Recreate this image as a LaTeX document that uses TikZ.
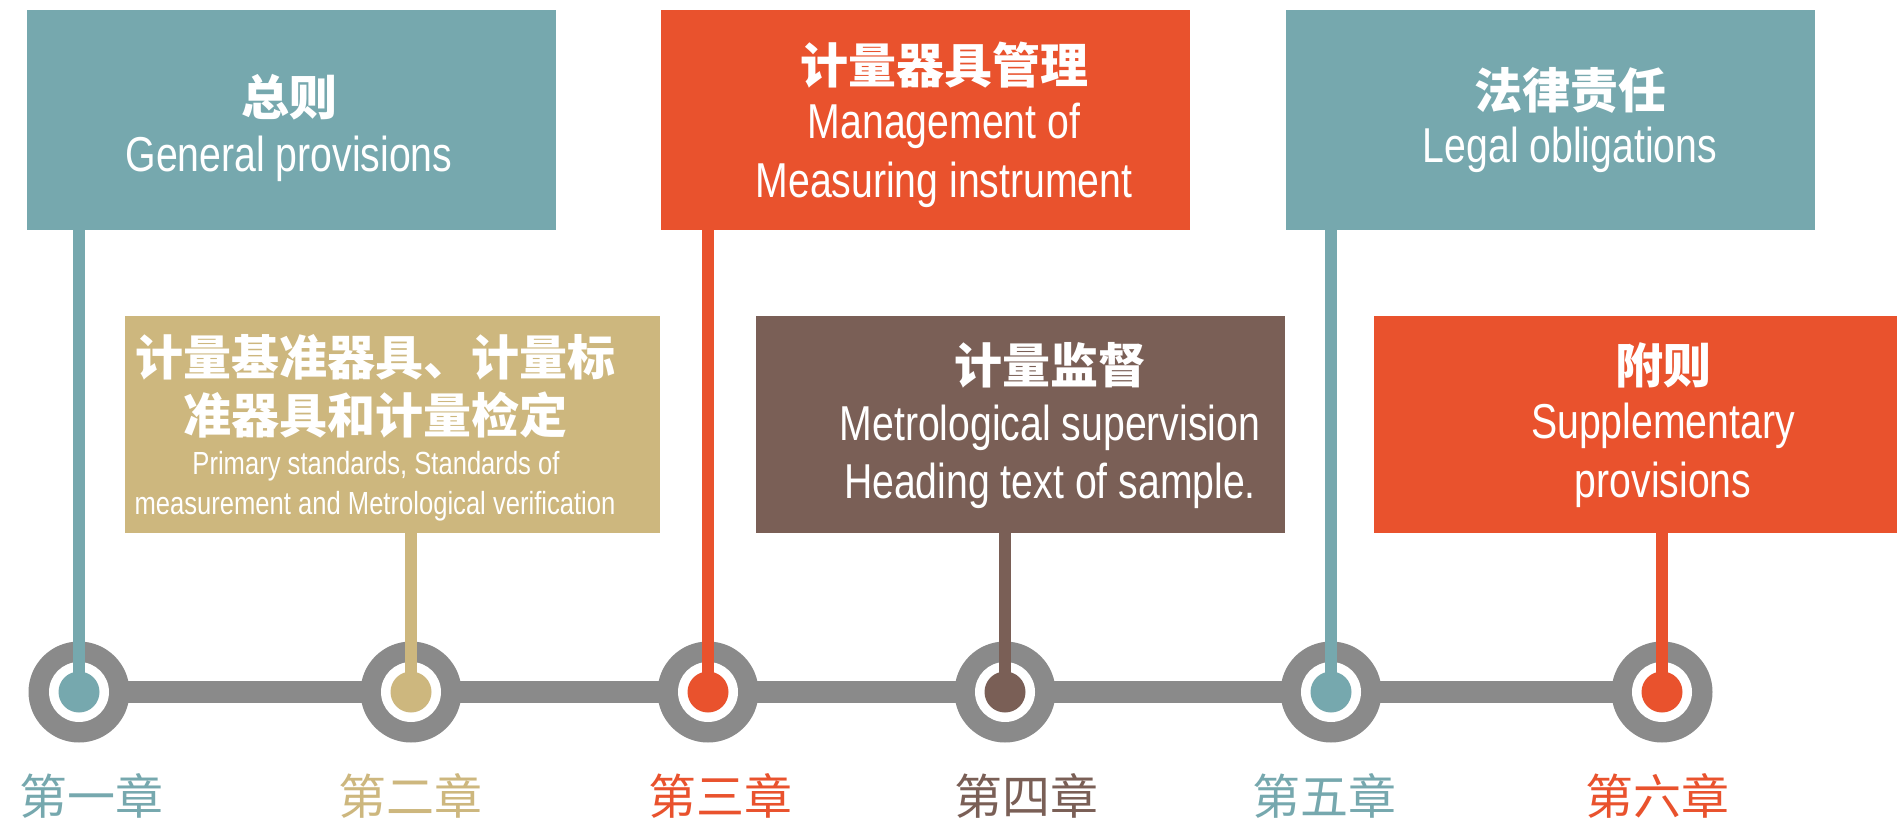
\documentclass[tikz,border=0pt]{standalone}
\usepackage{fontspec}
\newfontfamily\cjk{Noto Sans CJK SC}
\newfontfamily\en{Liberation Sans}[FakeStretch=0.8]
\definecolor{cteal}{HTML}{76A8AE}
\definecolor{ctan}{HTML}{CDB77E}
\definecolor{cred}{HTML}{E9522D}
\definecolor{cbrown}{HTML}{7A5F56}
\definecolor{cgray}{HTML}{8A8A8A}
\begin{document}
\begin{tikzpicture}[x=1pt,y=-1pt,
  boxnode/.style={rectangle, draw=none, inner sep=0pt, minimum width=529pt, minimum height=220pt},
  lowbox/.style={boxnode, minimum height=217pt},
  ringnode/.style={circle, fill=cgray, draw=none, inner sep=0pt, minimum size=101pt},
  holenode/.style={circle, fill=white, draw=none, inner sep=0pt, minimum size=60pt},
  dotnode/.style={circle, draw=none, inner sep=0pt, minimum size=41pt},
  stemline/.style={line width=12pt},
  timebar/.style={line width=22pt, cgray},
  cntitle/.style={text=white, inner sep=0pt, anchor=center, font=\cjk\bfseries\fontsize{48}{58}\selectfont},
  entext/.style={text=white, inner sep=0pt, anchor=base, font=\en\fontsize{49}{58}\selectfont},
  ensmall/.style={text=white, inner sep=0pt, anchor=base, font=\en\fontsize{32}{40}\selectfont},
  chaplabel/.style={inner sep=0pt, anchor=center, font=\cjk\fontsize{48}{58}\selectfont}
]
\useasboundingbox[fill=white] (0,0) rectangle (1897,821);

% boxes
\node[boxnode, fill=cteal] (b1) at (291.5,120) {};
\node[lowbox, fill=ctan, minimum width=535pt] (b2) at (392.5,424.5) {};
\node[boxnode, fill=cred] (b3) at (925.5,120) {};
\node[lowbox, fill=cbrown] (b4) at (1020.5,424.5) {};
\node[boxnode, fill=cteal] (b5) at (1550.5,120) {};
\node[lowbox, fill=cred, minimum width=523pt] (b6) at (1635.5,424.5) {};

% circles
\coordinate (p1) at (79,692);
\coordinate (p2) at (411,692);
\coordinate (p3) at (708,692);
\coordinate (p4) at (1005,692);
\coordinate (p5) at (1331,692);
\coordinate (p6) at (1662,692);

\draw[timebar] (p1) -- (p6);
\foreach \i in {1,...,6}{
  \node[ringnode] (r\i) at (p\i) {};
  \node[holenode] (h\i) at (p\i) {};
}

% stems and dots
\draw[stemline, cteal] (p1 |- b1.south) -- (p1);
\draw[stemline, ctan] (p2 |- b2.south) -- (p2);
\draw[stemline, cred] (p3 |- b3.south) -- (p3);
\draw[stemline, cbrown] (p4 |- b4.south) -- (p4);
\draw[stemline, cteal] (p5 |- b5.south) -- (p5);
\draw[stemline, cred] (p6 |- b6.south) -- (p6);
\node[dotnode, fill=cteal] (d1) at (p1) {};
\node[dotnode, fill=ctan] (d2) at (p2) {};
\node[dotnode, fill=cred] (d3) at (p3) {};
\node[dotnode, fill=cbrown] (d4) at (p4) {};
\node[dotnode, fill=cteal] (d5) at (p5) {};
\node[dotnode, fill=cred] (d6) at (p6) {};

% box texts
\node[cntitle] (t1a) at (289,97) {总则};
\node[entext] (t1b) at (289,172) {General provisions};

\node[cntitle] (t2a) at (375,357) {计量基准器具、计量标};
\node[cntitle] (t2b) at (375,415) {准器具和计量检定};
\node[ensmall] (t2c) at (376,474) {Primary standards, Standards of};
\node[ensmall] (t2d) at (375,514) {measurement and Metrological verification};

\node[cntitle] (t3a) at (944,65) {计量器具管理};
\node[entext] (t3b) at (944,139) {Management of};
\node[entext] (t3c) at (944,197) {Measuring instrument};

\node[cntitle] (t4a) at (1050,365) {计量监督};
\node[entext] (t4b) at (1050,440) {Metrological supervision};
\node[entext] (t4c) at (1050,498) {Heading text of sample.};

\node[cntitle] (t5a) at (1570,90) {法律责任};
\node[entext] (t5b) at (1570,163) {Legal obligations};

\node[cntitle] (t6a) at (1663,365) {附则};
\node[entext] (t6b) at (1663,438) {Supplementary};
\node[entext] (t6c) at (1663,497) {provisions};

% chapter labels
\node[chaplabel, text=cteal] (l1) at (91,796) {第一章};
\node[chaplabel, text=ctan] (l2) at (410,796) {第二章};
\node[chaplabel, text=cred] (l3) at (720,796) {第三章};
\node[chaplabel, text=cbrown] (l4) at (1026,796) {第四章};
\node[chaplabel, text=cteal] (l5) at (1324,796) {第五章};
\node[chaplabel, text=cred] (l6) at (1657,796) {第六章};
\end{tikzpicture}
\end{document}
